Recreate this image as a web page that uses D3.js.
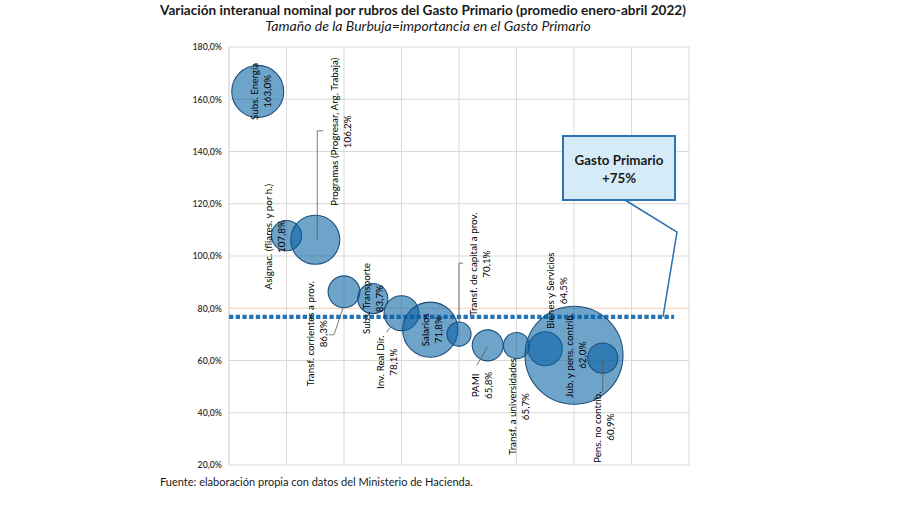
<!DOCTYPE html>
<html>
<head>
<meta charset="utf-8">
<script src="https://cdn.jsdelivr.net/npm/d3@7"></script>
<style>
  html, body { margin: 0; padding: 0; background: #fff; }
  svg { display: block; }
</style>
</head>
<body>
<svg id="chart" width="900" height="505"></svg>
<script>
// ---------------- DATA ----------------
const categories = [
  "Subs. Energía",
  "Asignac. (fliares. y por h.)",
  "Programas (Progresar, Arg. Trabaja)",
  "Transf. corrientes a prov.",
  "Subs. Transporte",
  "Inv. Real Dir.",
  "Salarios",
  "Transf. de capital a prov.",
  "PAMI",
  "Transf. a universidades",
  "Bienes y Servicios",
  "Jub. y pens. contrib.",
  "Pens. no contrib."
];
const xPositions = [0.5, 1, 1.5, 2, 2.5, 3, 3.5, 4, 4.5, 5, 5.5, 6, 6.5];
const variation = [163.0, 107.8, 106.2, 86.3, 83.7, 78.1, 71.8, 70.1, 65.8, 65.7, 64.5, 62.0, 60.9];
const weight = [10.7, 3.6, 9.5, 4.0, 3.6, 4.8, 12.0, 2.3, 3.8, 2.7, 4.6, 38.0, 3.6]; // importance in primary spending (bubble area)
const yTicks = [20, 40, 60, 80, 100, 120, 140, 160, 180];
const totalLabel = "Gasto Primario";
const totalValueLabel = "+75%";
const totalLineValue = 76.7;

const title = "Variación interanual nominal por rubros del Gasto Primario (promedio enero-abril 2022)";
const subtitle = "Tamaño de la Burbuja=importancia en el Gasto Primario";
const source = "Fuente: elaboración propia con datos del Ministerio de Hacienda.";

// ---------------- LAYOUT (label offsets relative to bubble centre, px) ----------------
const labelLayout = [
  { dx: 3,   dy: 0,    leader: null },
  { dx: -12, dy: 1,    leader: null },
  { dx: 25,  dy: -108, leader: [[8,-109],[2,-109],[2,0]] },
  { dx: -28, dy: 42,   leader: [[-1,16],[-10,43],[-15,43]] },
  { dx: 0,   dy: 0,    leader: null },
  { dx: -15, dy: 49,   leader: [[-11,14],[-15,19]] },
  { dx: 1,   dy: 0,    leader: null },
  { dx: 20,  dy: -70,  leader: [[4,-71],[0,-71],[0,-12]] },
  { dx: -6,  dy: 40,   leader: [[-11,20],[0,1]] },
  { dx: 2,   dy: 61,   leader: null },
  { dx: 11,  dy: -58,  leader: null },
  { dx: 1,   dy: 0,    leader: null },
  { dx: 1,   dy: 69,   leader: [[0,0],[0,34]] }
];

const FONT = "Lato, 'Open Sans', 'DejaVu Sans', sans-serif";
const svg = d3.select("#chart");

const plot = { left: 229, right: 689, top: 47, bottom: 465 };
const x = d3.scaleLinear().domain([0, 8]).range([plot.left, plot.right]);
const y = d3.scaleLinear().domain([20, 180]).range([plot.bottom, plot.top]);
const r = d3.scaleSqrt().domain([0, d3.max(weight)]).range([0, 49]);

function fitFont(sel, base, target) {
  sel.style("font-size", base + "px");
  const w = sel.node().getComputedTextLength();
  const s = base * target / w;
  sel.style("font-size", s + "px");
  return s;
}

// ---------------- GRID ----------------
const grid = svg.append("g");
grid.selectAll("line.h").data(yTicks).join("line")
  .attr("x1", plot.left).attr("x2", plot.right)
  .attr("y1", d => y(d)).attr("y2", d => y(d))
  .attr("stroke", d => d === 80 ? "#f6cdb3" : "#d9d9d9")
  .attr("stroke-width", 1);
grid.selectAll("line.v").data(d3.range(0, 9)).join("line")
  .attr("x1", d => x(d)).attr("x2", d => x(d))
  .attr("y1", plot.top).attr("y2", plot.bottom)
  .attr("stroke", d => d === 0 ? "#c8c8c8" : "#d9d9d9")
  .attr("stroke-width", 1);

// ---------------- Y AXIS ----------------
const yAxis = d3.axisLeft(y).tickValues(yTicks)
  .tickFormat(d => d3.format(".1f")(d).replace(".", ",") + "%")
  .tickSize(0).tickPadding(7);
const ya = svg.append("g").attr("transform", `translate(${plot.left},0)`).call(yAxis);
ya.select(".domain").remove();
ya.selectAll("text").attr("font-family", FONT).attr("fill", "#333").attr("font-weight", 600);
const tickSize = fitFont(ya.select("text"), 8, 24.5);
ya.selectAll("text").style("font-size", tickSize + "px");

// ---------------- TOTAL LINE ----------------
const lineEndX = x(7.74);
svg.append("line")
  .attr("x1", plot.left).attr("x2", lineEndX)
  .attr("y1", y(totalLineValue)).attr("y2", y(totalLineValue))
  .attr("stroke", "#2474b8").attr("stroke-width", 4.2)
  .attr("stroke-dasharray", "4.3,2.4");

// ---------------- BUBBLES ----------------
const data = categories.map((c, i) => ({
  name: c, xv: xPositions[i], v: variation[i], w: weight[i], lay: labelLayout[i]
}));
svg.append("g").selectAll("circle").data(data).join("circle")
  .attr("cx", d => x(d.xv)).attr("cy", d => y(d.v)).attr("r", d => r(d.w))
  .attr("fill", "#0561a3").attr("fill-opacity", 0.58)
  .attr("stroke", "#1d4f7c").attr("stroke-width", 1.1);

// ---------------- LEADERS ----------------
svg.append("g").selectAll("polyline").data(data.filter(d => d.lay.leader)).join("polyline")
  .attr("points", d => d.lay.leader.map(p => [x(d.xv) + p[0], y(d.v) + p[1]].join(",")).join(" "))
  .attr("fill", "none").attr("stroke", "#595959").attr("stroke-width", 0.8);

// ---------------- LABELS ----------------
const fmtPct = v => d3.format(".1f")(v).replace(".", ",") + "%";
const labels = svg.append("g").selectAll("text").data(data).join("text")
  .attr("transform", d => `translate(${x(d.xv) + d.lay.dx},${y(d.v) + d.lay.dy}) rotate(-90)`)
  .attr("text-anchor", "middle")
  .attr("font-family", FONT)
  .attr("fill", "#000");
labels.append("tspan").attr("class", "l1").attr("x", 0).attr("y", -6.3)
  .attr("dominant-baseline", "central").text(d => d.name);
labels.append("tspan").attr("class", "l2").attr("x", 0).attr("y", 6.7)
  .attr("dominant-baseline", "central").text(d => fmtPct(d.v));
// size labels so that "Transf. a universidades" is about as long as in the reference
const refLab = labels.filter(d => d.name === "Transf. a universidades").select("tspan.l1");
labels.style("font-size", "10px");
const w0 = refLab.node().getComputedTextLength();
labels.style("font-size", (10 * 97 / w0) + "px");

// ---------------- CALLOUT ----------------
const box = { x: 563, y: 136, w: 112, h: 64 };
svg.append("polyline")
  .attr("points", [[625, box.y + box.h], [677, 232], [663, y(totalLineValue)]].map(p => p.join(",")).join(" "))
  .attr("fill", "none").attr("stroke", "#2a6fae").attr("stroke-width", 1.5);
svg.append("rect").attr("x", box.x).attr("y", box.y).attr("width", box.w).attr("height", box.h)
  .attr("fill", "#d5ecf8").attr("stroke", "#2e75b6").attr("stroke-width", 2);
const ct1 = svg.append("text").attr("x", box.x + box.w / 2).attr("y", 165)
  .attr("text-anchor", "middle").attr("font-family", FONT).attr("font-weight", 700)
  .attr("fill", "#1a1a1a").text(totalLabel);
const cs = fitFont(ct1, 13, 89);
svg.append("text").attr("x", box.x + box.w / 2).attr("y", 183)
  .attr("text-anchor", "middle").attr("font-family", FONT).attr("font-weight", 700)
  .attr("fill", "#1a1a1a").style("font-size", cs + "px").text(totalValueLabel);

// ---------------- TITLES ----------------
const t = svg.append("text").attr("x", 423).attr("y", 15).attr("text-anchor", "middle")
  .attr("font-family", FONT).attr("font-weight", 700).attr("fill", "#1a1a1a").text(title);
fitFont(t, 14, 526);
const st = svg.append("text").attr("x", 428).attr("y", 31).attr("text-anchor", "middle")
  .attr("font-family", FONT).attr("font-style", "italic").attr("fill", "#1a1a1a").text(subtitle);
fitFont(st, 13, 326);
const ft = svg.append("text").attr("x", 160).attr("y", 486)
  .attr("font-family", FONT).attr("fill", "#1a1a1a").text(source);
fitFont(ft, 11, 313);
</script>
</body>
</html>
